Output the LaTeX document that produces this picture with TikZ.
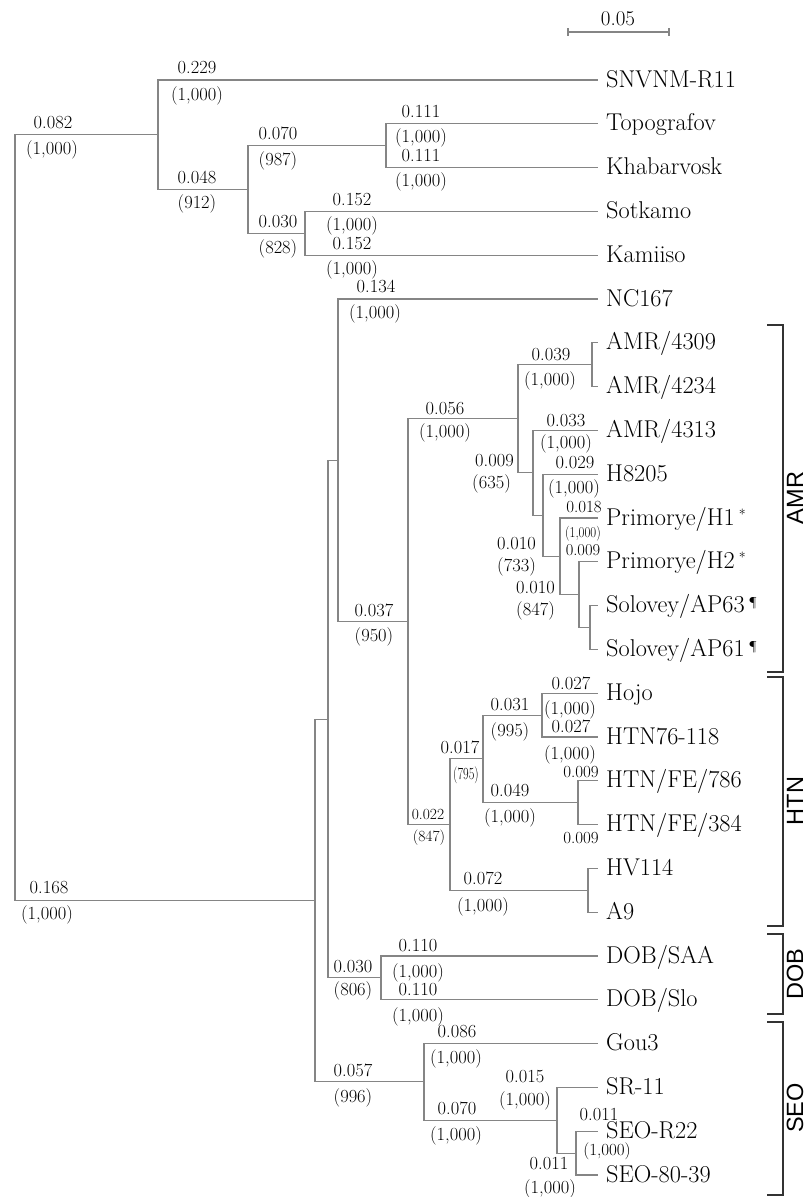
\documentclass[tikz,border=0pt]{standalone}
\usepackage{fontspec}
\newfontfamily\grpfont{Liberation Sans}
\begin{document}
\begin{tikzpicture}[x=1pt,y=-1pt,
  br/.style={draw=black!48, line width=1.1pt},
  bk/.style={draw=black!80, line width=2.6pt},
  lf/.style={anchor=base west, inner sep=0pt, font=\fontsize{24.3}{25}\selectfont},
  up/.style={anchor=south, inner sep=0pt, font=\fontsize{18.5}{19}\selectfont},
  dn/.style={anchor=north, inner sep=0pt, font=\fontsize{18.5}{19}\selectfont},
  upr/.style={anchor=south east, inner sep=0pt, font=\fontsize{18.5}{19}\selectfont},
  dnr/.style={anchor=north east, inner sep=0pt, font=\fontsize{18.5}{19}\selectfont},
  grp/.style={rotate=90, inner sep=0pt, font=\grpfont\fontsize{23.5}{24}\selectfont}]
\useasboundingbox (0,0) rectangle (806,1197);
% ---- internal nodes
\coordinate (root) at (15,517.6);
\coordinate (nUp) at (158,134.75);
\coordinate (n48) at (248,189.5);
\coordinate (nTK) at (386,145.7);
\coordinate (nSK) at (305,233.3);
\coordinate (nA) at (315,900.5);
\coordinate (nB) at (328,719.1);
\coordinate (nC) at (338,460.35);
\coordinate (n37) at (408,621.7);
\coordinate (nAMR) at (518,418.77);
\coordinate (nA12) at (592,364.7);
\coordinate (n4313) at (533,472.83);
\coordinate (nH8) at (543,515.26);
\coordinate (nP1) at (560,556.33);
\coordinate (nP2) at (579,594.65);
\coordinate (nSol) at (590,627.5);
\coordinate (nHTN) at (450,824.6);
\coordinate (n17) at (483,758.9);
\coordinate (nHo) at (542,715.1);
\coordinate (nFE) at (578,802.7);
\coordinate (nHV) at (588,890.3);
\coordinate (nDOB) at (381,977.9);
\coordinate (nSEO) at (424,1081.9);
\coordinate (nSR) at (557,1120.25);
\coordinate (nS22) at (576,1153.1);
% ---- leaf tips
\coordinate (tSNV) at (598,80);
\coordinate (tTopo) at (598,123.8);
\coordinate (tKhab) at (598,167.6);
\coordinate (tSot) at (598,211.4);
\coordinate (tKam) at (598,255.2);
\coordinate (tNC) at (598,299.0);
\coordinate (t4309) at (598,342.8);
\coordinate (t4234) at (598,386.6);
\coordinate (t4313) at (598,430.4);
\coordinate (tH8205) at (598,474.2);
\coordinate (tPH1) at (598,518.0);
\coordinate (tPH2) at (598,561.8);
\coordinate (tS63) at (598,605.6);
\coordinate (tS61) at (598,649.4);
\coordinate (tHojo) at (598,693.2);
\coordinate (tHTN76) at (598,737.0);
\coordinate (t786) at (598,780.8);
\coordinate (t384) at (598,824.6);
\coordinate (tHV) at (598,868.4);
\coordinate (tA9) at (598,912.2);
\coordinate (tSAA) at (598,956.0);
\coordinate (tSlo) at (598,999.8);
\coordinate (tGou) at (598,1043.6);
\coordinate (tSR) at (598,1087.4);
\coordinate (tR22) at (598,1131.2);
\coordinate (t8039) at (598,1175.0);
% ---- branches
\draw[br] (root) |- (nUp);  \draw[br] (root) |- (nA);
\draw[br] (nUp) |- (tSNV);  \draw[br] (nUp) |- (n48);
\draw[br] (n48) |- (nTK);   \draw[br] (n48) |- (nSK);
\draw[br] (nTK) |- (tTopo); \draw[br] (nTK) |- (tKhab);
\draw[br] (nSK) |- (tSot);  \draw[br] (nSK) |- (tKam);
\draw[br] (nA) |- (nB);     \draw[br] (nA) |- (nSEO);
\draw[br] (nB) |- (nC);     \draw[br] (nB) |- (nDOB);
\draw[br] (nC) |- (tNC);    \draw[br] (nC) |- (n37);
\draw[br] (n37) |- (nAMR);  \draw[br] (n37) |- (nHTN);
\draw[br] (nAMR) |- (nA12); \draw[br] (nAMR) |- (n4313);
\draw[br] (nA12) |- (t4309); \draw[br] (nA12) |- (t4234);
\draw[br] (n4313) |- (t4313); \draw[br] (n4313) |- (nH8);
\draw[br] (nH8) |- (tH8205); \draw[br] (nH8) |- (nP1);
\draw[br] (nP1) |- (tPH1);  \draw[br] (nP1) |- (nP2);
\draw[br] (nP2) |- (tPH2);  \draw[br] (nP2) |- (nSol);
\draw[br] (nSol) |- (tS63); \draw[br] (nSol) |- (tS61);
\draw[br] (nHTN) |- (n17);  \draw[br] (nHTN) |- (nHV);
\draw[br] (n17) |- (nHo);   \draw[br] (n17) |- (nFE);
\draw[br] (nHo) |- (tHojo); \draw[br] (nHo) |- (tHTN76);
\draw[br] (nFE) |- (t786);  \draw[br] (nFE) |- (t384);
\draw[br] (nHV) |- (tHV);   \draw[br] (nHV) |- (tA9);
\draw[br] (nDOB) |- (tSAA); \draw[br] (nDOB) |- (tSlo);
\draw[br] (nSEO) |- (tGou); \draw[br] (nSEO) |- (nSR);
\draw[br] (nSR) |- (tSR);   \draw[br] (nSR) |- (nS22);
\draw[br] (nS22) |- (tR22); \draw[br] (nS22) |- (t8039);
% ---- leaf labels
\node[lf] (lSNV) at (606,87) {SNVNM-R11};
\node[lf] (lTopo) at (606,130.8) {Topografov};
\node[lf] (lKhab) at (606,174.6) {Khabarvosk};
\node[lf] (lSot) at (606,218.4) {Sotkamo};
\node[lf] (lKam) at (606,262.2) {Kamiiso};
\node[lf] (lNC) at (606,306.0) {NC167};
\node[lf] (l4309) at (606,349.8) {AMR/4309};
\node[lf] (l4234) at (606,393.6) {AMR/4234};
\node[lf] (l4313) at (606,437.4) {AMR/4313};
\node[lf] (lH8205) at (606,481.2) {H8205};
\node[lf] (lPH1) at (606,525.0) {Primorye/H1\,\raisebox{6pt}{\fontsize{14}{14}\selectfont *}};
\node[lf] (lPH2) at (606,568.8) {Primorye/H2\,\raisebox{6pt}{\fontsize{14}{14}\selectfont *}};
\node[lf] (lS63) at (606,612.6) {Solovey/AP63\,\raisebox{6pt}{\fontsize{13}{13}\selectfont\P}};
\node[lf] (lS61) at (606,656.4) {Solovey/AP61\,\raisebox{6pt}{\fontsize{13}{13}\selectfont\P}};
\node[lf] (lHojo) at (606,700.2) {Hojo};
\node[lf] (lHTN76) at (606,744.0) {HTN76-118};
\node[lf] (l786) at (606,787.8) {HTN/FE/786};
\node[lf] (l384) at (606,831.6) {HTN/FE/384};
\node[lf] (lHV) at (606,875.4) {HV114};
\node[lf] (lA9) at (606,919.2) {A9};
\node[lf] (lSAA) at (606,963.0) {DOB/SAA};
\node[lf] (lSlo) at (606,1006.8) {DOB/Slo};
\node[lf] (lGou) at (606,1050.6) {Gou3};
\node[lf] (lSR) at (606,1094.4) {SR-11};
\node[lf] (lR22) at (606,1138.2) {SEO-R22};
\node[lf] (l8039) at (606,1182.0) {SEO-80-39};
% ---- branch labels
\node[up] (b1) at (53,129) {0.082};   \node[dn] (s1) at (52,140) {(1,000)};
\node[up] (b2) at (197,74) {0.229};   \node[dn] (s2) at (197,86) {(1,000)};
\node[up] (b3) at (197,184) {0.048};  \node[dn] (s3) at (197,194) {(912)};
\node[up] (b4) at (278,140) {0.070};  \node[dn] (s4) at (278,151) {(987)};
\node[up] (b5) at (278,228) {0.030};  \node[dn] (s5) at (278,239) {(828)};
\node[up] (b6) at (421,118) {0.111};  \node[dn] (s6) at (421,128) {(1,000)};
\node[up] (b7) at (421,162) {0.111};  \node[dn] (s7) at (421,172) {(1,000)};
\node[up] (b8) at (352,206) {0.152};  \node[dn] (s8) at (352,216) {(1,000)};
\node[up] (b9) at (352,250) {0.152};  \node[dn] (s9) at (352,260) {(1,000)};
\node[up] (b10) at (376,293) {0.134}; \node[dn] (s10) at (375,304) {(1,000)};
\node[up] (b11) at (551,361) {0.039}; \node[dn] (s11) at (550,371) {(1,000)};
\node[up] (b12) at (445,415) {0.056}; \node[dn] (s12) at (445,423) {(1,000)};
\node[up] (b13) at (566,427) {0.033}; \node[dn] (s13) at (566,434) {(1,000)};
\node[upr] (b14) at (514,467) {0.009}; \node[dnr] (s14) at (511,474) {(635)};
\node[up] (b15) at (575,469) {0.029}; \node[dn] (s15) at (574,479) {(1,000)};
\node[up, font=\fontsize{17}{17}\selectfont] (b16) at (584,513) {0.018};
\node[dn, font=\fontsize{15}{15}\selectfont, xscale=0.85] (s16) at (583,526) {(1,000)};
\node[up, font=\fontsize{16.5}{17}\selectfont] (b17) at (583,556) {0.009};
\node[upr] (b18) at (536,550) {0.010}; \node[dnr] (s18) at (536,557) {(733)};
\node[upr] (b19) at (555,594) {0.010}; \node[dnr] (s19) at (555,601) {(847)};
\node[up] (b20) at (374,617) {0.037}; \node[dn] (s20) at (374,627) {(950)};
\node[up] (b21) at (571,690) {0.027}; \node[dn] (s21) at (570,700) {(1,000)};
\node[up] (b22) at (571,733) {0.027}; \node[dn] (s22) at (570,745) {(1,000)};
\node[up] (b23) at (510,711) {0.031}; \node[dn] (s23) at (510,722) {(995)};
\node[up] (b24) at (460,754) {0.017};
\node[dn, font=\fontsize{17}{17}\selectfont, xscale=0.72] (s24) at (466,767) {(795)};
\node[up] (b25) at (510,797) {0.049}; \node[dn] (s25) at (510,808) {(1,000)};
\node[up, font=\fontsize{17}{17}\selectfont] (b26) at (581,778) {0.009};
\node[dn, font=\fontsize{17}{17}\selectfont] (b27) at (581,832) {0.009};
\node[up, font=\fontsize{15.5}{16}\selectfont] (b28) at (428,820) {0.022};
\node[dn, font=\fontsize{15.5}{16}\selectfont] (s28) at (429,830) {(847)};
\node[up] (b29) at (483,885) {0.072}; \node[dn] (s29) at (483,897) {(1,000)};
\node[up] (b30) at (49,894) {0.168};  \node[dn] (s30) at (47,905) {(1,000)};
\node[up] (b31) at (418,952) {0.110}; \node[dn] (s31) at (418,963) {(1,000)};
\node[up] (b32) at (418,996) {0.110}; \node[dn] (s32) at (418,1007) {(1,000)};
\node[up] (b33) at (353,973) {0.030}; \node[dn] (s33) at (353,981) {(806)};
\node[up] (b34) at (457,1038) {0.086}; \node[dn] (s34) at (456,1049) {(1,000)};
\node[up] (b35) at (353,1077) {0.057}; \node[dn] (s35) at (353,1088) {(996)};
\node[up] (b36) at (457,1115) {0.070}; \node[dn] (s36) at (456,1126) {(1,000)};
\node[up] (b37) at (525,1083) {0.015}; \node[dn] (s37) at (525,1091) {(1,000)};
\node[up] (b38) at (599,1121) {0.011};
\node[dn, font=\fontsize{17}{17}\selectfont] (s38) at (607,1143) {(1,000)};
\node[dn] (b39) at (549,1157) {0.011}; \node[dn] (s39) at (550,1179) {(1,000)};
% ---- scale bar
\coordinate (sb1) at (568,32);
\coordinate (sb2) at (669,32);
\draw[br] (sb1) -- (sb2);
\draw[br] (sb1) ++(0,-4) -- ++(0,8);
\draw[br] (sb2) ++(0,-4) -- ++(0,8);
\node[up, font=\fontsize{21}{21}\selectfont] (sbl) at (618,26) {0.05};
% ---- group brackets
\draw[bk] (767,325) -- (783,325) -- (783,672) -- (767,672);
\draw[bk] (767,677) -- (783,677) -- (783,926) -- (767,926);
\draw[bk] (767,934) -- (783,934) -- (783,1014) -- (767,1014);
\draw[bk] (767,1022) -- (783,1022) -- (783,1195) -- (767,1195);
\node[grp] (gAMR) at (795,498) {AMR};
\node[grp] (gHTN) at (795,801) {HTN};
\node[grp] (gDOB) at (795,974) {DOB};
\node[grp] (gSEO) at (795,1108) {SEO};
\end{tikzpicture}
\end{document}
